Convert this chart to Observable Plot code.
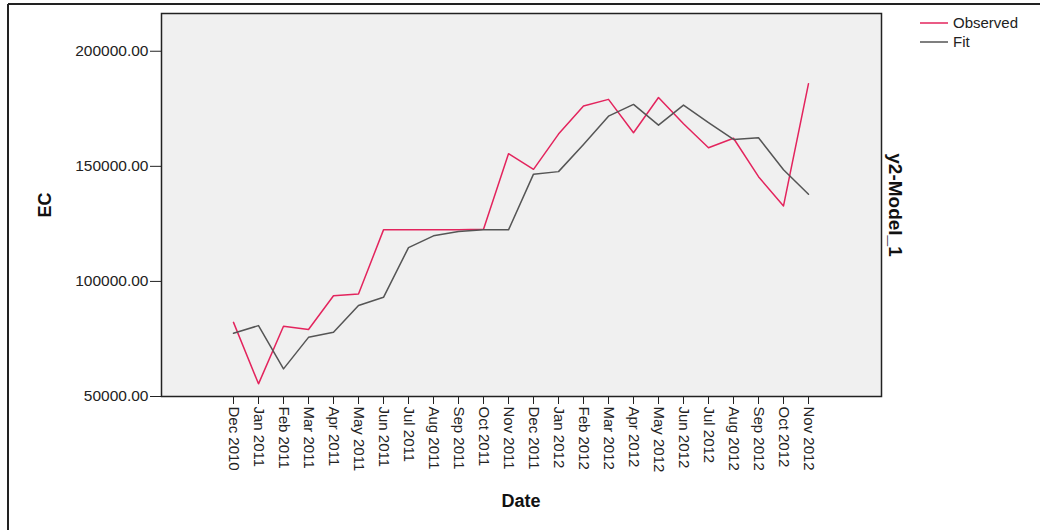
<!DOCTYPE html>
<html>
<head>
<meta charset="utf-8">
<script src="https://cdn.jsdelivr.net/npm/d3@7"></script>
<script src="https://cdn.jsdelivr.net/npm/@observablehq/plot@0.6"></script>
<style>
  html, body { margin: 0; padding: 0; background: #fff; }
  #chart svg { display: block; }
</style>
</head>
<body>
<div id="chart"></div>
<script>
const dates = ["Dec 2010","Jan 2011","Feb 2011","Mar 2011","Apr 2011","May 2011","Jun 2011","Jul 2011",
  "Aug 2011","Sep 2011","Oct 2011","Nov 2011","Dec 2011","Jan 2012","Feb 2012","Mar 2012","Apr 2012",
  "May 2012","Jun 2012","Jul 2012","Aug 2012","Sep 2012","Oct 2012","Nov 2012"];
const observed = [82200, 55500, 80500, 79100, 93800, 94500, 122400, 122400, 122400, 122400, 122700, 155500,
  148700, 164000, 176200, 179100, 164600, 179900, 168500, 158100, 162200, 145500, 132800, 185900];
const fit = [77500, 80800, 62000, 75700, 77900, 89500, 93100, 114700, 119800, 121700, 122400, 122400,
  146600, 147700, 159500, 171800, 176900, 167900, 176600, 169000, 161700, 162400, 148500, 137900];
const seriesNames = ["Observed", "Fit"];
const seriesColors = ["#e3245d", "#555555"];
const yTicks = [50000, 100000, 150000, 200000];

const data = dates.flatMap((d, i) => [
  {date: d, value: observed[i], series: "Observed"},
  {date: d, value: fit[i], series: "Fit"}
]);

const W = 1040, H = 530;
const plot = Plot.plot({
  width: W, height: H,
  marginLeft: 161, marginRight: 159, marginTop: 13, marginBottom: 134,
  style: {fontFamily: "'Liberation Sans', Arial, sans-serif", background: "#fff", color: "#222"},
  x: {type: "point", domain: dates, range: [211, 830]},
  y: {domain: [50000, 216400]},
  color: {domain: seriesNames, range: seriesColors},
  marks: [
    Plot.frame({fill: "#f0f0f0", stroke: "none"}),
    Plot.line(data, {x: "date", y: "value", z: "series", stroke: "series", strokeWidth: 1.5}),
    Plot.axisY({ticks: yTicks, tickFormat: d => d.toFixed(2), tickSize: 11, tickPadding: 2, fontSize: 15.5, label: null, stroke: "#222"}),
    Plot.axisX({tickSize: 8, tickRotate: 90, tickPadding: 2, fontSize: 15, label: null, stroke: "#222"}),
    Plot.frame({stroke: "#222", strokeWidth: 1.5})
  ]
});
document.getElementById("chart").appendChild(plot);

const svg = d3.select(plot);
// outer border (top and left)
svg.append("line").attr("x1", 8).attr("x2", W).attr("y1", 4).attr("y2", 4).attr("stroke", "#222").attr("stroke-width", 2);
svg.append("line").attr("x1", 8).attr("x2", 8).attr("y1", 4).attr("y2", H).attr("stroke", "#222").attr("stroke-width", 2);

const font = "'Liberation Sans', Arial, sans-serif";
svg.append("text").text("EC").attr("transform", "translate(51,205) rotate(-90)")
  .attr("text-anchor", "middle").attr("font-family", font).attr("font-weight", "bold").attr("font-size", 18).attr("fill", "#111");
svg.append("text").text("Date").attr("x", 521).attr("y", 507)
  .attr("text-anchor", "middle").attr("font-family", font).attr("font-weight", "bold").attr("font-size", 18).attr("fill", "#111");
svg.append("text").text("y2-Model_1").attr("transform", "translate(889,205) rotate(90)")
  .attr("text-anchor", "middle").attr("font-family", font).attr("font-weight", "bold").attr("font-size", 19).attr("fill", "#111");

// legend
seriesNames.forEach((name, i) => {
  const y = 23 + i * 19;
  svg.append("line").attr("x1", 920).attr("x2", 948).attr("y1", y).attr("y2", y)
    .attr("stroke", seriesColors[i]).attr("stroke-width", 1.5);
  svg.append("text").text(name).attr("x", 953).attr("y", y).attr("dy", "0.35em")
    .attr("text-anchor", "start")
    .attr("font-family", font).attr("font-size", 15).attr("fill", "#222");
});
</script>
</body>
</html>
